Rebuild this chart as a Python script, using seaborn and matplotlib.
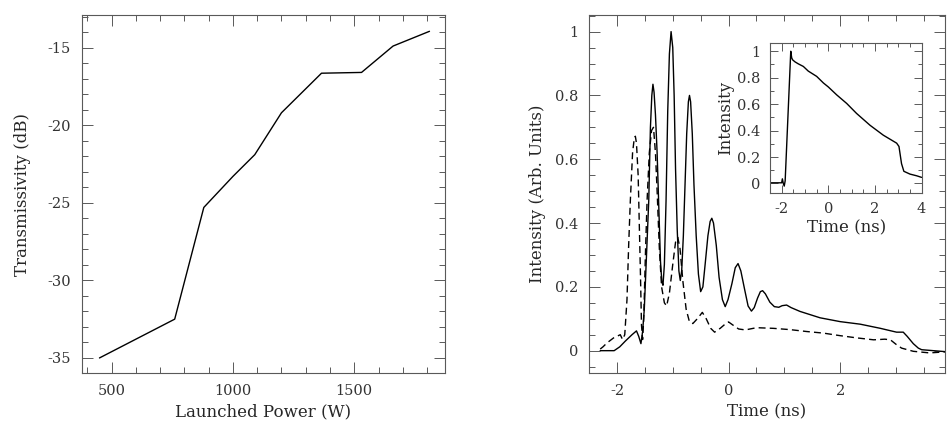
import matplotlib
matplotlib.use("Agg")
import matplotlib.pyplot as plt
import seaborn as sns
from matplotlib.ticker import MultipleLocator, FuncFormatter

# left panel: transmissivity vs launched power
power = [450, 760, 880, 1000, 1090, 1200, 1365, 1530, 1660, 1810]
trans = [-35.0, -32.5, -25.3, -23.3, -21.9, -19.2, -16.65, -16.6, -14.9, -13.95]

# right panel: pulse shapes (solid and dashed)
t_solid = [-2.30, -2.05, -1.95, -1.85, -1.73, -1.65, -1.61, -1.57, -1.54, -1.51, -1.47, -1.43,
           -1.40, -1.375, -1.355, -1.335, -1.31, -1.28, -1.25, -1.22, -1.195, -1.175, -1.15,
           -1.12, -1.09, -1.06, -1.03, -1.00, -0.975, -0.95, -0.92, -0.89, -0.865, -0.84, -0.81,
           -0.78, -0.75, -0.72, -0.70, -0.68, -0.65, -0.62, -0.58, -0.54, -0.50, -0.46, -0.42,
           -0.37, -0.33, -0.30, -0.27, -0.22, -0.17, -0.11, -0.06, -0.01, 0.06, 0.12, 0.17,
           0.22, 0.29, 0.35, 0.41, 0.46, 0.52, 0.57, 0.61, 0.66, 0.74, 0.82, 0.90, 0.96, 1.04,
           1.12, 1.28, 1.64, 2.00, 2.36, 2.72, 2.84, 3.01, 3.13, 3.20, 3.31, 3.40, 3.46, 3.67, 3.95]
i_solid = [0.0, 0.0, 0.012, 0.03, 0.05, 0.062, 0.045, 0.022, 0.06, 0.13, 0.30, 0.47,
           0.70, 0.80, 0.835, 0.81, 0.74, 0.62, 0.45, 0.28, 0.215, 0.205, 0.27,
           0.47, 0.75, 0.93, 1.0, 0.95, 0.80, 0.57, 0.38, 0.25, 0.22, 0.25, 0.36,
           0.52, 0.68, 0.78, 0.80, 0.78, 0.68, 0.52, 0.36, 0.24, 0.185, 0.20, 0.27,
           0.36, 0.405, 0.415, 0.40, 0.33, 0.23, 0.16, 0.138, 0.16, 0.21, 0.26, 0.273,
           0.25, 0.19, 0.14, 0.124, 0.135, 0.165, 0.185, 0.188, 0.178, 0.152, 0.138, 0.136,
           0.141, 0.143, 0.135, 0.123, 0.103, 0.091, 0.083, 0.07, 0.065, 0.058, 0.058, 0.045,
           0.022, 0.008, 0.003, 0.0, -0.004]

t_dash = [-2.30, -2.25, -2.18, -2.06, -1.94, -1.90, -1.86, -1.82, -1.79, -1.76, -1.72, -1.69,
          -1.67, -1.65, -1.62, -1.60, -1.58, -1.56, -1.54, -1.52, -1.49, -1.46, -1.42, -1.38,
          -1.345, -1.31, -1.28, -1.24, -1.20, -1.15, -1.11, -1.06, -1.00, -0.95, -0.91, -0.87,
          -0.82, -0.76, -0.70, -0.64, -0.56, -0.47, -0.40, -0.32, -0.25, -0.15, -0.05, 0.00,
          0.08, 0.18, 0.30, 0.50, 0.80, 1.10, 1.40, 1.70, 2.00, 2.30, 2.60, 2.80, 2.90, 3.00,
          3.10, 3.31, 3.60, 3.95]
i_dash = [0.005, 0.012, 0.024, 0.04, 0.05, 0.035, 0.05, 0.16, 0.33, 0.47, 0.62, 0.665,
          0.672, 0.65, 0.55, 0.40, 0.25, 0.08, 0.035, 0.10, 0.30, 0.47, 0.62, 0.69,
          0.70, 0.62, 0.50, 0.32, 0.20, 0.15, 0.14, 0.18, 0.27, 0.34, 0.355, 0.32,
          0.22, 0.13, 0.09, 0.085, 0.10, 0.12, 0.10, 0.07, 0.058, 0.07, 0.085, 0.09,
          0.08, 0.068, 0.065, 0.072, 0.070, 0.066, 0.060, 0.055, 0.047, 0.040, 0.034, 0.036,
          0.034, 0.020, 0.008, -0.002, -0.007, -0.003]

# inset: long pulse
t_inset = [-2.5, -2.0, -1.97, -1.93, -1.89, -1.85, -1.61, -1.57, -1.53, -1.43, -1.29, -1.07,
           -0.86, -0.5, -0.21, 0.0, 0.36, 0.79, 1.21, 1.79, 2.36, 2.93, 3.03, 3.14, 3.24,
           3.5, 3.79, 4.0]
i_inset = [0.005, 0.005, 0.035, 0.0, -0.02, 0.02, 1.0, 0.95, 0.935, 0.92, 0.905, 0.885,
           0.85, 0.81, 0.76, 0.73, 0.67, 0.605, 0.53, 0.44, 0.365, 0.305, 0.28, 0.15, 0.092,
           0.071, 0.058, 0.046]

sns.set_style("ticks")
plt.rcParams['font.family'] = ['DejaVu Serif']
plt.rcParams['axes.unicode_minus'] = False
plt.rcParams['font.size'] = 10.5

fig = plt.figure(figsize=(9.47, 4.23), dpi=100)
ax1 = fig.add_axes([0.0866, 0.1182, 0.3833, 0.8463])
ax2 = fig.add_axes([0.622, 0.1182, 0.376, 0.8463])
ax3 = fig.add_axes([0.8131, 0.5444, 0.1608, 0.3532])

fmt = FuncFormatter(lambda v, p: f"{v:g}")


def style(ax, pad):
    for s in ax.spines.values():
        s.set_color("0.35")
        s.set_linewidth(0.8)
    ax.tick_params(which="both", direction="in", top=True, right=True, colors="0.35",
                   labelcolor="0.2", width=0.7)
    ax.tick_params(which="major", length=8, pad=pad)
    ax.tick_params(which="minor", length=4)


sns.lineplot(x=power, y=trans, ax=ax1, color="k", lw=1.0, sort=False, estimator=None)
ax1.set_xlim(378, 1874)
ax1.set_ylim(-35.97, -12.9)
ax1.set_xticks([500, 1000, 1500])
ax1.xaxis.set_minor_locator(MultipleLocator(100))
ax1.set_yticks([-15, -20, -25, -30, -35])
ax1.yaxis.set_minor_locator(MultipleLocator(1))
ax1.yaxis.set_major_formatter(fmt)
ax1.set_xlabel("Launched Power (W)", fontsize=12, color="0.15")
ax1.set_ylabel("Transmissivity (dB)", fontsize=12, color="0.15", labelpad=12)
style(ax1, 8)

sns.lineplot(x=t_solid, y=i_solid, ax=ax2, color="k", lw=1.0, sort=False, estimator=None)
sns.lineplot(x=t_dash, y=i_dash, ax=ax2, color="k", lw=1.0, dashes=False, sort=False,
             estimator=None)
ax2.lines[-1].set_dashes([5, 3])
ax2.set_xlim(-2.5, 3.88)
ax2.set_ylim(-0.07, 1.052)
ax2.set_xticks([-2, 0, 2])
ax2.xaxis.set_minor_locator(MultipleLocator(0.5))
ax2.set_yticks([0, 0.2, 0.4, 0.6, 0.8, 1])
ax2.yaxis.set_minor_locator(MultipleLocator(0.05))
ax2.yaxis.set_major_formatter(fmt)
ax2.set_xlabel("Time (ns)", fontsize=12, color="0.15")
ax2.set_ylabel("Intensity (Arb. Units)", fontsize=12, color="0.15", labelpad=6)
style(ax2, 8)

sns.lineplot(x=t_inset, y=i_inset, ax=ax3, color="k", lw=1.0, sort=False, estimator=None)
ax3.set_xlim(-2.5, 4.03)
ax3.set_ylim(-0.07, 1.06)
ax3.set_xticks([-2, 0, 2, 4])
ax3.xaxis.set_minor_locator(MultipleLocator(0.5))
ax3.set_yticks([0, 0.2, 0.4, 0.6, 0.8, 1])
ax3.yaxis.set_minor_locator(MultipleLocator(0.1))
ax3.yaxis.set_major_formatter(fmt)
ax3.set_xlabel("Time (ns)", fontsize=12, labelpad=2, color="0.15")
ax3.set_ylabel("Intensity", fontsize=12, labelpad=2, color="0.15")
style(ax3, 7)
ax3.tick_params(which="major", length=6)
ax3.tick_params(which="minor", length=3)

fig.savefig("out.png", dpi=100)
